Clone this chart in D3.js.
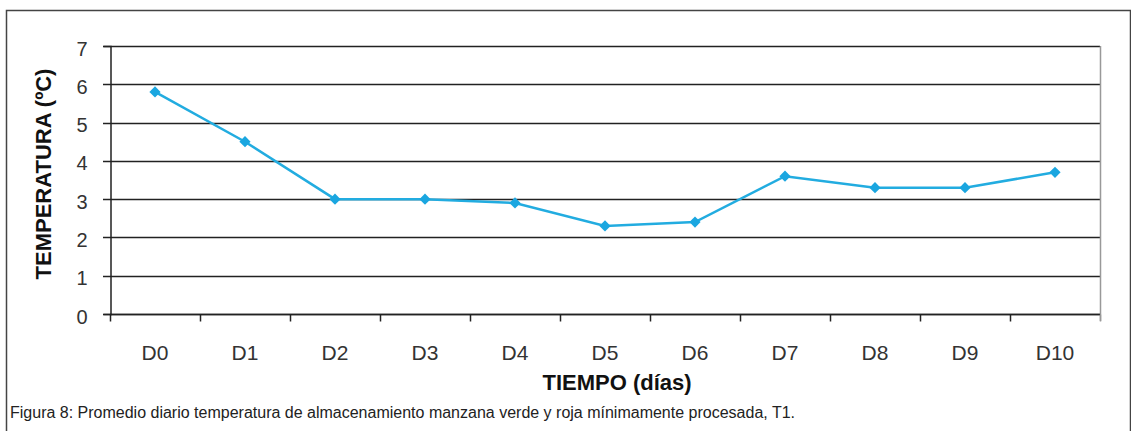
<!DOCTYPE html>
<html>
<head>
<meta charset="utf-8">
<script src="https://cdn.jsdelivr.net/npm/d3@7"></script>
<style>
  body { margin: 0; background: #fff; }
  text { font-family: "Liberation Sans", Arial, sans-serif; }
</style>
</head>
<body>
<div id="chart"></div>
<script>
const days = ['D0', 'D1', 'D2', 'D3', 'D4', 'D5', 'D6', 'D7', 'D8', 'D9', 'D10'];
const temps = [5.8, 4.5, 3.0, 3.0, 2.9, 2.3, 2.4, 3.6, 3.3, 3.3, 3.7];
const yTicks = [0, 1, 2, 3, 4, 5, 6, 7];

const width = 1131;
const height = 431;
const margin = {top: 46, bottom: 117, left: 110, right: 31};

const svg = d3.select('#chart')
  .append('svg')
  .attr('width', width)
  .attr('height', height);

// outer frame
svg.append('path')
  .attr('d', `M6.5,431 V10.5 H1130.5 V431`)
  .attr('fill', 'none')
  .attr('stroke', '#444')
  .attr('stroke-width', 1.5);

const x = d3.scaleBand()
  .domain(days)
  .range([margin.left, width - margin.right]);

const y = d3.scaleLinear()
  .domain([0, 7])
  .range([height - margin.bottom, margin.top]);

// gridlines
svg.append('g')
  .selectAll('line')
  .data(yTicks)
  .join('line')
  .attr('x1', margin.left - 7)
  .attr('x2', width - margin.right)
  .attr('y1', d => Math.round(y(d)) + 0.5)
  .attr('y2', d => Math.round(y(d)) + 0.5)
  .attr('stroke', '#222')
  .attr('stroke-width', 1.5);

// right edge of plot
svg.append('line')
  .attr('x1', width - margin.right + 0.5)
  .attr('x2', width - margin.right + 0.5)
  .attr('y1', y(7))
  .attr('y2', y(0) + 7)
  .attr('stroke', '#999')
  .attr('stroke-width', 1.5);

// y axis
const yAxis = svg.append('g')
  .attr('transform', `translate(${margin.left + 0.5},0)`)
  .call(d3.axisLeft(y).tickValues(yTicks).tickFormat(d3.format('d')).tickSize(7).tickPadding(16));
yAxis.select('.domain').attr('stroke', '#222').attr('stroke-width', 1.5);
yAxis.selectAll('.tick line').remove();
yAxis.selectAll('text')
  .attr('font-size', 20)
  .attr('dy', '0.45em')
  .attr('fill', '#333')
  .style('font-family', '"Liberation Sans", Arial, sans-serif');

// x axis: ticks at category boundaries
const xAxisG = svg.append('g')
  .attr('transform', `translate(0,${Math.round(y(0)) + 0.5})`);
xAxisG.append('line')
  .attr('x1', margin.left).attr('x2', width - margin.right)
  .attr('stroke', '#222').attr('stroke-width', 1.5);
xAxisG.selectAll('line.tk')
  .data(days.concat(['end']))
  .join('line')
  .attr('class', 'tk')
  .attr('x1', (d, i) => Math.round(margin.left + i * x.bandwidth()) + 0.5)
  .attr('x2', (d, i) => Math.round(margin.left + i * x.bandwidth()) + 0.5)
  .attr('y1', 0).attr('y2', 7)
  .attr('stroke', (d, i) => i === days.length ? '#999' : '#222')
  .attr('stroke-width', 1.5);
xAxisG.selectAll('text')
  .data(days)
  .join('text')
  .attr('x', d => x(d) + x.bandwidth() / 2)
  .attr('y', 45)
  .attr('text-anchor', 'middle')
  .attr('font-size', 21)
  .attr('fill', '#333')
  .text(d => d);

// line
const line = d3.line()
  .x((d, i) => x(days[i]) + x.bandwidth() / 2)
  .y(d => y(d));

svg.append('path')
  .datum(temps)
  .attr('d', line)
  .attr('fill', 'none')
  .attr('stroke', '#22ACE0')
  .attr('stroke-width', 2.5);

svg.append('g')
  .selectAll('path')
  .data(temps)
  .join('path')
  .attr('transform', (d, i) => `translate(${x(days[i]) + x.bandwidth() / 2},${y(d)})`)
  .attr('d', d3.symbol().type(d3.symbolDiamond2).size(80))
  .attr('fill', '#1AA6E0');

// axis titles
svg.append('text')
  .attr('transform', `translate(51,174) rotate(-90)`)
  .attr('text-anchor', 'middle')
  .attr('font-size', 22)
  .attr('font-weight', 'bold')
  .attr('fill', '#111')
  .text('TEMPERATURA (ºC)');

svg.append('text')
  .attr('x', 617)
  .attr('y', 390)
  .attr('text-anchor', 'middle')
  .attr('font-size', 22)
  .attr('font-weight', 'bold')
  .attr('fill', '#111')
  .text('TIEMPO (días)');

svg.append('text')
  .attr('x', 10)
  .attr('y', 418)
  .attr('font-size', 16)
  .attr('fill', '#222')
  .text('Figura 8: Promedio diario temperatura de almacenamiento manzana verde y roja mínimamente procesada, T1.');
</script>
</body>
</html>
